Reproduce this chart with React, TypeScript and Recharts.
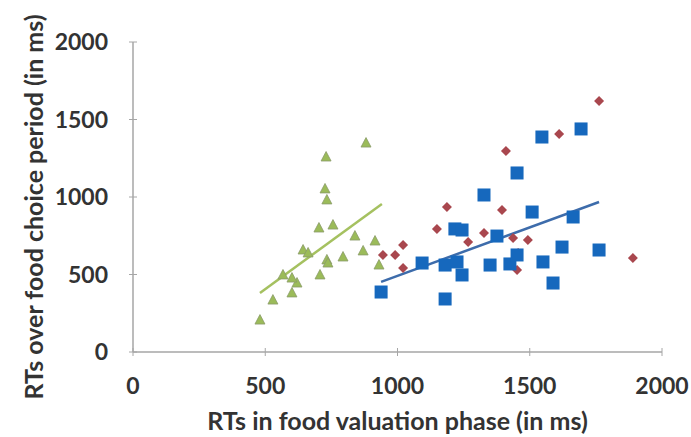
import React from "react";
import {
  ReferenceLine,
  Scatter,
  ScatterChart,
  XAxis,
  YAxis,
} from "recharts";

// valuation RT (ms) vs choice RT (ms), one list per group
const greenX = [480, 529, 601, 620, 567, 601, 643, 662, 707, 733, 737, 794, 703, 756, 839, 915, 870, 726, 733, 730, 881, 930];
const greenY = [206, 335, 381, 445, 497, 477, 658, 639, 497, 594, 574, 613, 800, 819, 748, 716, 652, 1052, 981, 1258, 1348, 561];

const blueX = [1546, 1694, 1452, 1327, 1509, 1664, 1217, 1244, 1376, 1622, 1762, 1093, 1180, 1225, 1244, 1350, 1425, 1452, 1550, 1588, 938, 1180];
const blueY = [1387, 1439, 1155, 1013, 903, 871, 794, 787, 748, 677, 658, 574, 561, 581, 497, 561, 568, 626, 581, 445, 387, 342];

const redX = [1762, 1611, 1410, 1187, 1395, 1149, 1327, 1267, 1437, 1493, 1021, 945, 991, 1021, 1890, 1456, 1452];
const redY = [1619, 1406, 1297, 935, 916, 794, 768, 710, 735, 723, 690, 626, 626, 542, 606, 639, 529];

// linear fits, drawn over each group's x range
const greenFit = [
  { x: 480, y: 381 },
  { x: 941, y: 955 },
];
const blueFit = [
  { x: 938, y: 452 },
  { x: 1762, y: 968 },
];

const ticks = [0, 500, 1000, 1500, 2000];

const FONT = "Lato, 'Open Sans', sans-serif";
const TEXT = "#333333";
const AXIS = "#a6a6a6";

const toPoints = (xs: number[], ys: number[]) =>
  xs.map((x, i) => ({ x, y: ys[i] }));

const greenData = toPoints(greenX, greenY);
const blueData = toPoints(blueX, blueY);
const redData = toPoints(redX, redY);

function Square(props: any) {
  const { cx, cy } = props;
  return <rect x={cx - 6.5} y={cy - 6.5} width={13} height={13} fill="#1668bd" />;
}

function Diamond(props: any) {
  const { cx, cy } = props;
  const r = 5;
  return (
    <polygon
      points={`${cx},${cy - r} ${cx + r},${cy} ${cx},${cy + r} ${cx - r},${cy}`}
      fill="#a9474e"
    />
  );
}

function Triangle(props: any) {
  const { cx, cy } = props;
  return (
    <polygon
      points={`${cx},${cy - 5.5} ${cx + 5},${cy + 4} ${cx - 5},${cy + 4}`}
      fill="#9bbb59"
      stroke="#8a9a6a"
      strokeWidth={0.8}
    />
  );
}

function XTick(props: any) {
  const { x, y, payload } = props;
  const axisY = y - 4;
  return (
    <g>
      <line x1={x} y1={axisY - 4} x2={x} y2={axisY + 4} stroke={AXIS} strokeWidth={1} />
      <text
        x={x}
        y={axisY + 42}
        textAnchor="middle"
        fontFamily={FONT}
        fontWeight={700}
        fontSize={23}
        fill={TEXT}
      >
        {payload.value}
      </text>
    </g>
  );
}

function YTick(props: any) {
  const { x, y, payload } = props;
  const axisX = x + 4;
  return (
    <g>
      <line x1={axisX - 4} y1={y} x2={axisX + 4} y2={y} stroke={AXIS} strokeWidth={1} />
      <text
        x={axisX - 25}
        y={y + 8}
        textAnchor="end"
        fontFamily={FONT}
        fontWeight={700}
        fontSize={23}
        fill={TEXT}
      >
        {payload.value}
      </text>
    </g>
  );
}

function YTitle(props: any) {
  const { viewBox } = props;
  const cx = viewBox.x + 33;
  const cy = viewBox.y + viewBox.height / 2 + 10;
  return (
    <text
      x={cx}
      y={cy}
      transform={`rotate(-90 ${cx} ${cy})`}
      textAnchor="middle"
      dominantBaseline="central"
      fontFamily={FONT}
      fontWeight={700}
      fontSize={25}
      fill={TEXT}
    >
      RTs over food choice period (in ms)
    </text>
  );
}

function XTitle(props: any) {
  const { viewBox } = props;
  const cx = viewBox.x + viewBox.width / 2;
  return (
    <text
      x={cx}
      y={viewBox.y + 78}
      textAnchor="middle"
      fontFamily={FONT}
      fontWeight={700}
      fontSize={25}
      fill={TEXT}
    >
      RTs in food valuation phase (in ms)
    </text>
  );
}

export default function App() {
  return (
    <div style={{ position: "absolute", left: 0, top: 0, background: "#fff" }}>
      <ScatterChart
        width={691}
        height={437}
        margin={{ top: 42, right: 29, bottom: 0, left: 0 }}
      >
        <XAxis
          type="number"
          dataKey="x"
          domain={[0, 2000]}
          ticks={ticks}
          height={85}
          stroke={AXIS}
          strokeWidth={1.5}
          tickLine={false}
          tickSize={4}
          tickMargin={0}
          tick={(p: any) => <XTick {...p} />}
          label={<XTitle />}
        />
        <YAxis
          type="number"
          dataKey="y"
          domain={[0, 2000]}
          ticks={ticks}
          width={133}
          stroke={AXIS}
          strokeWidth={1.5}
          tickLine={false}
          tickSize={4}
          tickMargin={0}
          tick={(p: any) => <YTick {...p} />}
          label={<YTitle />}
        />
        <Scatter data={redData} shape={Diamond} isAnimationActive={false} />
        <Scatter data={greenData} shape={Triangle} isAnimationActive={false} />
        <Scatter data={blueData} shape={Square} isAnimationActive={false} />
        <ReferenceLine
          segment={greenFit}
          stroke="#a5c160"
          strokeWidth={2.5}
          ifOverflow="visible"
        />
        <ReferenceLine
          segment={blueFit}
          stroke="#3d6cab"
          strokeWidth={2.5}
          ifOverflow="visible"
        />
      </ScatterChart>
    </div>
  );
}
